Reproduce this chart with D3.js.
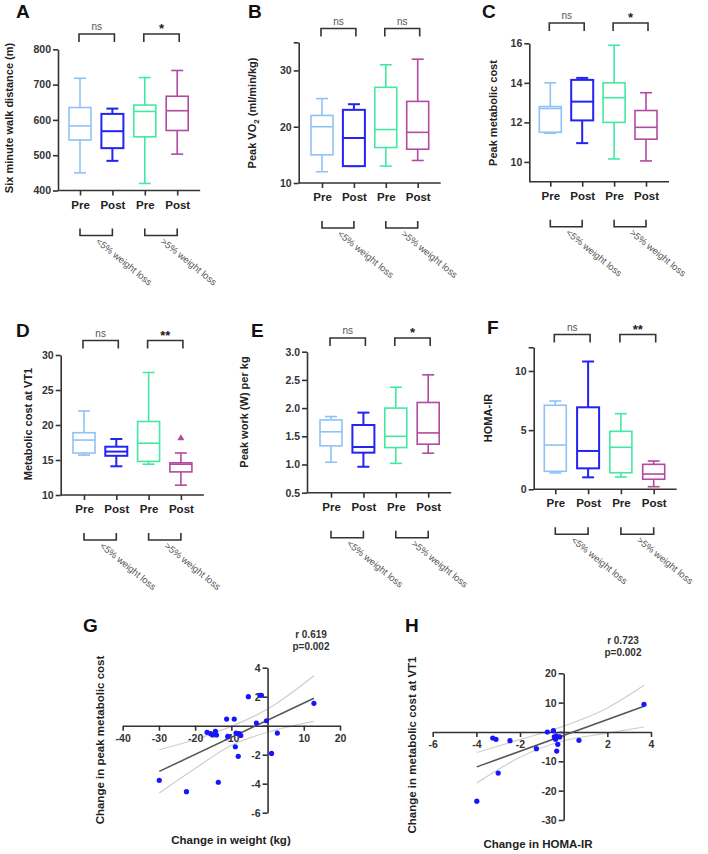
<!DOCTYPE html>
<html><head><meta charset="utf-8">
<script src="https://cdn.jsdelivr.net/npm/d3@7"></script>
<style>
body{margin:0;background:#fff;}
svg{display:block;font-family:"Liberation Sans",Arial,sans-serif;}
</style></head>
<body><svg id="chart" width="708" height="854"></svg>
<script>
// ---------- DATA ----------
const categories = ["Pre","Post","Pre","Post"];
const groupLabels = ["<5% weight loss", ">5% weight loss"];
const boxColors = ["#90c2f5","#2323f2","#43e9a2","#b24a9f"];
// boxes: [min, q1, median, q3, max]
const walkDistance = [[450,543,583,635,718],[484,520,568,617,632],[420,552,624,642,720],[503,570,626,667,740]];
const peakVO2      = [[12,15,20,22,25],[13,13,18,23,24],[13,16.3,19.5,27,31],[14,16,19,24.5,32]];
const peakMetCost  = [[11.45,11.5,12.7,12.8,14],[10.95,12.1,13.05,14.15,14.25],[10.15,12,13.25,14,15.9],[10.05,11.15,11.75,12.6,13.5]];
const metCostVT1   = [[15.7,16,17.85,18.9,22],[14.1,15.6,16.2,16.9,18],[14.4,14.8,17.4,20.5,27.5],[11.4,13.3,14.4,14.6,16]];
const metCostVT1Outliers = [[3,18.1]];
const peakWork     = [[1.04,1.33,1.58,1.79,1.85],[0.96,1.21,1.31,1.7,1.92],[1.02,1.3,1.5,2.0,2.37],[1.2,1.36,1.56,2.1,2.59]];
const homaIR       = [[1.38,1.52,3.74,7.1,7.46],[1.01,1.77,3.24,6.93,10.8],[1.04,1.4,3.55,4.9,6.39],[0.22,0.85,1.29,2.11,2.39]];
const sigA = ["ns","*"], sigB = ["ns","ns"], sigC = ["ns","*"], sigD = ["ns","**"], sigE = ["ns","*"], sigF = ["ns","**"];
const ticksA = [400,500,600,700,800];
const ticksB = [10,20,30,35];
const ticksC = [10,12,14,16];
const ticksD = [10,15,20,25,30];
const ticksE = [0.5,1.0,1.5,2.0,2.5,3.0];
const ticksF = [0,5,10,12];

// scatter G: change in weight (kg) vs change in peak metabolic cost
const weightChange = [-29.9,-22.4,-13.6,-16.7,-15.7,-15.2,-14.4,-14.1,-11.3,-11.0,-9.2,-8.9,-8.7,-8.1,-7.8,-7.4,-5.3,-3.1,-2.1,-1.7,-0.3,1.1,2.7,12.8];
const peakCostChange = [-3.77,-4.55,-3.9,-0.46,-0.55,-0.64,-0.39,-0.64,0.46,-0.74,0.46,-1.45,-0.51,-2.11,-0.55,-0.67,2.0,0.18,2.1,2.1,0.34,-1.91,-0.51,1.54];
const fitGx = [-29.9,12.8], fitGy = [-3.15,1.89];
const bandGx = [-29.9,-20,-10,0,12.8];
const bandGupper = [-1.66,-0.95,-0.05,1.15,3.45];
const bandGlower = [-4.64,-2.95,-1.35,-0.45,0.3];
const ticksGx = [-40,-30,-20,-10,0,10,20];
const ticksGy = [-6,-4,-2,0,2,4];

// scatter H: change in HOMA-IR vs change in metabolic cost at VT1
const homaChange = [-3.98,-3.25,-3.1,-3.0,-2.46,-1.25,-0.75,-0.47,-0.43,-0.37,-0.34,-0.27,-0.32,-0.18,0.7,3.68];
const vt1Change = [-23.6,-2.05,-2.5,-14.0,-2.95,-5.7,0,0.45,-1.7,-2.5,-1.36,-4.2,-6.5,-1.7,-2.84,9.43];
const fitHx = [-3.98,3.68], fitHy = [-11.9,8.75];
const bandHx = [-3.98,-2,0,2,3.68];
const bandHupper = [-7.0,-2.6,2.0,8.2,15.9];
const bandHlower = [-17.4,-8.6,-3.0,-0.4,1.7];
const ticksHx = [-6,-4,-2,0,2,4];
const ticksHy = [-30,-20,-10,0,10,20];

// ---------- DRAW ----------
const svg = d3.select("#chart");
const AX = "#333";

function boxPanel(o){
  const g = svg.append("g");
  const y = d3.scaleLinear().domain(o.domain).range([o.yBottom, o.yTop]);
  const x = d3.scalePoint().domain(d3.range(4)).range([o.axisX + o.off, o.axisX + o.off + 3*o.step]);
  const xEnd = o.axisX + o.off + 3*o.step + 23;
  const bw = 22, cw = 12;
  // y axis
  const ya = g.append("g").attr("transform",`translate(${o.axisX},0)`)
    .call(d3.axisLeft(y).tickValues(o.ticks).tickSize(5).tickSizeOuter(0)
      .tickFormat(d => (o.hide && o.hide.includes(d)) ? "" : (o.fmt ? o.fmt(d) : d)));
  ya.select(".domain").attr("stroke",AX).attr("stroke-width",1.6);
  ya.selectAll(".tick line").attr("stroke",AX).attr("stroke-width",1.6);
  ya.selectAll(".tick text").attr("fill","#333").attr("font-size","10.5px").attr("font-weight","bold").attr("x",-7);
  // x axis
  g.append("line").attr("x1",o.axisX).attr("x2",xEnd).attr("y1",o.yBottom).attr("y2",o.yBottom)
    .attr("stroke",AX).attr("stroke-width",1.6);
  const xa = g.append("g").attr("transform",`translate(0,${o.yBottom})`)
    .call(d3.axisBottom(x).tickSize(5).tickFormat(i => categories[i]));
  xa.select(".domain").remove();
  xa.selectAll(".tick line").attr("stroke",AX).attr("stroke-width",1.6);
  xa.selectAll(".tick text").attr("fill","#222").attr("font-size","11.5px").attr("font-weight","bold").attr("y",10);
  // boxes
  o.data.forEach((b,i) => {
    const c = boxColors[i], cx = x(i), sw = (i===1)?2:1.6;
    const bg = g.append("g").attr("stroke",c).attr("stroke-width",sw).attr("fill","none");
    bg.append("line").attr("x1",cx).attr("x2",cx).attr("y1",y(b[0])).attr("y2",y(b[1]));
    bg.append("line").attr("x1",cx).attr("x2",cx).attr("y1",y(b[3])).attr("y2",y(b[4]));
    bg.append("line").attr("x1",cx-cw/2).attr("x2",cx+cw/2).attr("y1",y(b[0])).attr("y2",y(b[0]));
    bg.append("line").attr("x1",cx-cw/2).attr("x2",cx+cw/2).attr("y1",y(b[4])).attr("y2",y(b[4]));
    bg.append("rect").attr("x",cx-bw/2).attr("width",bw).attr("y",y(b[3])).attr("height",y(b[1])-y(b[3])).attr("fill","#fff");
    bg.append("line").attr("x1",cx-bw/2).attr("x2",cx+bw/2).attr("y1",y(b[2])).attr("y2",y(b[2]));
  });
  (o.outliers||[]).forEach(([i,v]) => {
    g.append("path").attr("d",d3.symbol(d3.symbolTriangle,22)()).attr("fill",boxColors[i])
      .attr("transform",`translate(${x(i)},${y(v)})`);
  });
  // significance brackets
  [0,1].forEach(k => {
    const x1 = x(2*k)-1, x2 = x(2*k+1)+2, t = o.sigY;
    g.append("path").attr("d",`M${x1},${t+8}V${t}H${x2}V${t+8}`).attr("fill","none").attr("stroke",AX).attr("stroke-width",1.6);
    const s = o.sig[k];
    g.append("text").attr("x",(x1+x2)/2).attr("y", s==="ns" ? t-4 : t-1).attr("text-anchor","middle")
      .attr("font-size", s==="ns" ? "10px" : "13px").attr("font-weight", s==="ns" ? "normal" : "bold")
      .attr("fill", s==="ns" ? "#555" : "#222").text(s);
  });
  // group brackets + rotated labels
  [0,1].forEach(k => {
    const x1 = x(2*k), x2 = x(2*k+1), t = o.yBottom + 38;
    g.append("path").attr("d",`M${x1},${t}V${t+7}H${x2}V${t}`).attr("fill","none").attr("stroke",AX).attr("stroke-width",1.6);
    g.append("text").attr("transform",`translate(${(x1+x2)/2-1},${t+14}) rotate(39)`)
      .attr("font-size","9.5px").attr("fill","#555").text(groupLabels[k]);
  });
  // y label
  const yl = g.append("text").attr("transform",`translate(${o.labX},${o.labY}) rotate(-90)`)
    .attr("text-anchor","middle").attr("font-size","11px").attr("font-weight","bold").attr("fill","#222");
  if (o.labelParts) o.labelParts(yl); else yl.text(o.label);
  // panel letter
  svg.append("text").attr("x",o.letterX).attr("y",o.letterY).attr("font-size","19px").attr("font-weight","bold")
    .attr("fill","#111").text(o.letter);
}

boxPanel({letter:"A",letterX:16,letterY:18,data:walkDistance,domain:[400,800],ticks:ticksA,axisX:58,yTop:49.3,yBottom:190.5,off:22,step:32.4,sig:sigA,sigY:34,label:"Six minute walk distance (m)",labX:13,labY:118});
boxPanel({letter:"B",letterX:248,letterY:18,data:peakVO2,domain:[10,35],ticks:ticksB,hide:[35],axisX:298.7,yTop:42.3,yBottom:183,off:23.3,step:31.9,sig:sigB,sigY:28.5,labX:256,labY:113,
  labelParts: t => { t.append("tspan").text("Peak VO"); t.append("tspan").attr("font-size","8px").attr("dy",3).text("2"); t.append("tspan").attr("dy",-3).text(" (ml/min/kg)"); }});
boxPanel({letter:"C",letterX:482,letterY:18,data:peakMetCost,domain:[9,16],ticks:ticksC,axisX:529.3,yTop:43.3,yBottom:181.7,off:21,step:31.9,sig:sigC,sigY:23,label:"Peak metabolic cost",labX:497,labY:113});
boxPanel({letter:"D",letterX:16,letterY:337,data:metCostVT1,outliers:metCostVT1Outliers,domain:[10,30],ticks:ticksD,axisX:60.7,yTop:355,yBottom:495,off:23.3,step:32.3,sig:sigD,sigY:340.5,label:"Metabolic cost at VT1",labX:32,labY:424});
boxPanel({letter:"E",letterX:251,letterY:337,data:peakWork,domain:[0.5,3.0],ticks:ticksE,fmt:d3.format(".1f"),axisX:307,yTop:351.7,yBottom:492.7,off:24,step:32.4,sig:sigE,sigY:338,label:"Peak work (W) per kg",labX:248,labY:412});
boxPanel({letter:"F",letterX:487,letterY:334,data:homaIR,domain:[0,12],ticks:ticksF,hide:[12],axisX:533.7,yTop:347.3,yBottom:489.3,off:21.6,step:32.8,sig:sigF,sigY:334.5,label:"HOMA-IR",labX:492,labY:418});

function scatterPanel(o){
  const g = svg.append("g");
  const x = d3.scaleLinear().domain(o.xDom).range(o.xRange);
  const y = d3.scaleLinear().domain(o.yDom).range(o.yRange);
  // bands
  const ln = d3.line().x(d=>x(d[0])).y(d=>y(d[1])).curve(d3.curveMonotoneX);
  g.append("path").attr("d",ln(o.bx.map((v,i)=>[v,o.bu[i]]))).attr("fill","none").attr("stroke","#cfcfcf").attr("stroke-width",1.2);
  g.append("path").attr("d",ln(o.bx.map((v,i)=>[v,o.bl[i]]))).attr("fill","none").attr("stroke","#cfcfcf").attr("stroke-width",1.2);
  // axes
  const xa = g.append("g").attr("transform",`translate(0,${y(0)})`)
    .call(d3.axisBottom(x).tickValues(o.xt).tickSize(5).tickSizeOuter(0).tickFormat(d=>d===0?"":d));
  const ya = g.append("g").attr("transform",`translate(${x(0)},0)`)
    .call(d3.axisLeft(y).tickValues(o.yt).tickSize(5).tickSizeOuter(0).tickFormat(d=>d===0?"":d));
  [xa,ya].forEach(a => {
    a.select(".domain").attr("stroke",AX).attr("stroke-width",1.6);
    a.selectAll(".tick line").attr("stroke",AX).attr("stroke-width",1.6);
    a.selectAll(".tick text").attr("fill","#333").attr("font-size","10.5px").attr("font-weight","bold");
  });
  xa.selectAll(".tick text").attr("y",9);
  ya.selectAll(".tick text").attr("x",-7);
  // fit line
  g.append("line").attr("x1",x(o.fx[0])).attr("x2",x(o.fx[1])).attr("y1",y(o.fy[0])).attr("y2",y(o.fy[1]))
    .attr("stroke","#555").attr("stroke-width",1.5);
  // points
  g.selectAll("circle.pt").data(o.px.map((v,i)=>[v,o.py[i]])).join("circle")
    .attr("cx",d=>x(d[0])).attr("cy",d=>y(d[1])).attr("r",2.6).attr("fill","#1515ff");
  // stats
  g.append("text").attr("x",o.statX).attr("y",o.statY).attr("text-anchor","middle").attr("font-size","10px").attr("font-weight","bold").attr("fill","#333").text(o.r);
  g.append("text").attr("x",o.statX).attr("y",o.statY+12).attr("text-anchor","middle").attr("font-size","10px").attr("font-weight","bold").attr("fill","#333").text("p=0.002");
  // labels
  g.append("text").attr("transform",`translate(${o.ylX},${o.ylY}) rotate(-90)`).attr("text-anchor","middle")
    .attr("font-size","11.5px").attr("font-weight","bold").attr("fill","#222").text(o.ylab);
  g.append("text").attr("x",o.xlX).attr("y",o.xlY).attr("text-anchor","middle")
    .attr("font-size","11.5px").attr("font-weight","bold").attr("fill","#222").text(o.xlab);
  svg.append("text").attr("x",o.letterX).attr("y",632).attr("font-size","19px").attr("font-weight","bold").attr("fill","#111").text(o.letter);
}

scatterPanel({letter:"G",letterX:83,xDom:[-40,20],xRange:[122.7,340],yDom:[-6,4],yRange:[812.7,667.7],
  xt:ticksGx,yt:ticksGy,px:weightChange,py:peakCostChange,fx:fitGx,fy:fitGy,bx:bandGx,bu:bandGupper,bl:bandGlower,
  r:"r 0.619",statX:311,statY:638,ylab:"Change in peak metabolic cost",ylX:104,ylY:740,xlab:"Change in weight (kg)",xlX:231,xlY:844});
scatterPanel({letter:"H",letterX:405,xDom:[-6,4],xRange:[432.7,651],yDom:[-30,20],yRange:[820,673.3],
  xt:ticksHx,yt:ticksHy,px:homaChange,py:vt1Change,fx:fitHx,fy:fitHy,bx:bandHx,bu:bandHupper,bl:bandHlower,
  r:"r 0.723",statX:623,statY:644,ylab:"Change in metabolic cost at VT1",ylX:416,ylY:745,xlab:"Change in HOMA-IR",xlX:538,xlY:848});
</script></body></html>
